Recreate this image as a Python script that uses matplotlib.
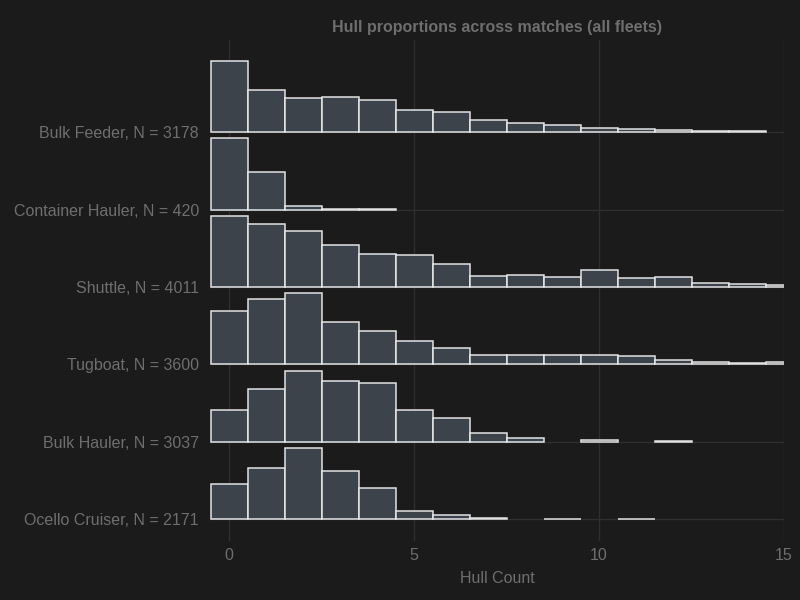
import numpy as np
import matplotlib
matplotlib.use("Agg")
import matplotlib.pyplot as plt

matplotlib.rc("font", family=["Liberation Sans", "DejaVu Sans"])

# 每个舰种的船体数量分布 (bin = 0, 1, 2, ...)
fleets = ["Bulk Feeder", "Container Hauler", "Shuttle", "Tugboat",
          "Bulk Hauler", "Ocello Cruiser"]
totals = [3178, 420, 4011, 3600, 3037, 2171]

bulk_feeder = [762, 447, 368, 379, 343, 235, 220, 133, 101, 73, 47, 36, 18, 8, 8]
container_hauler = [262, 139, 15, 3, 1]
shuttle = [718, 635, 563, 420, 328, 321, 228, 113, 120, 102, 167, 95, 105, 41, 31, 24]
tugboat = [527, 649, 709, 421, 328, 238, 160, 97, 97, 97, 97, 80, 47, 23, 10, 20]
bulk_hauler = [280, 462, 626, 536, 516, 277, 206, 74, 36, 0, 15, 0, 9]
ocello_cruiser = [303, 445, 613, 416, 266, 72, 35, 9, 0, 6, 0, 6]

counts = [bulk_feeder, container_hauler, shuttle, tugboat, bulk_hauler, ocello_cruiser]

bg = "#1b1b1b"
text_col = "#6e6e6e"
grid_col = "#2f2f2f"

fig = plt.figure(figsize=(8, 6), dpi=100, facecolor=bg)
ax = fig.add_axes([210 / 800, 1 - 541 / 600, 574 / 800, 501 / 600])
ax.set_facecolor(bg)

n_rows = len(fleets)
for i, (name, c) in enumerate(zip(fleets, counts)):
    base = n_rows - 1 - i
    c = np.array(c, dtype=float)
    prop = c / c.sum()
    h = 0.92 * prop / prop.max()
    bins = np.arange(len(c))
    keep = c > 0
    ax.axhline(base, color=grid_col, linewidth=1, zorder=1)
    ax.bar(bins[keep], h[keep], width=1.0, bottom=base, align="center",
           facecolor="#3e464d", edgecolor="#ececec", linewidth=1.1,
           alpha=0.95, zorder=3)

for xv in [0, 5, 10, 15]:
    ax.axvline(xv, color=grid_col, linewidth=1, zorder=1)

ax.set_xlim(-0.52, 15)
ax.set_ylim(-0.28, n_rows - 1 + 1.19)
ax.set_xticks([0, 5, 10, 15])
ax.set_yticks(np.arange(n_rows)[::-1])
ax.set_yticklabels([f"{f}, N = {t}" for f, t in zip(fleets, totals)])
ax.tick_params(axis="both", length=0, colors=text_col, labelsize=11.5)
ax.tick_params(axis="y", pad=8)
ax.tick_params(axis="x", pad=5)
for s in ax.spines.values():
    s.set_visible(False)

ax.set_xlabel("Hull Count", color=text_col, fontsize=11.5, labelpad=6)
ax.set_title("Hull proportions across matches (all fleets)", color=text_col,
             fontsize=11.5, fontweight="bold", pad=6)

fig.savefig("out.png", dpi=100, facecolor=bg)
